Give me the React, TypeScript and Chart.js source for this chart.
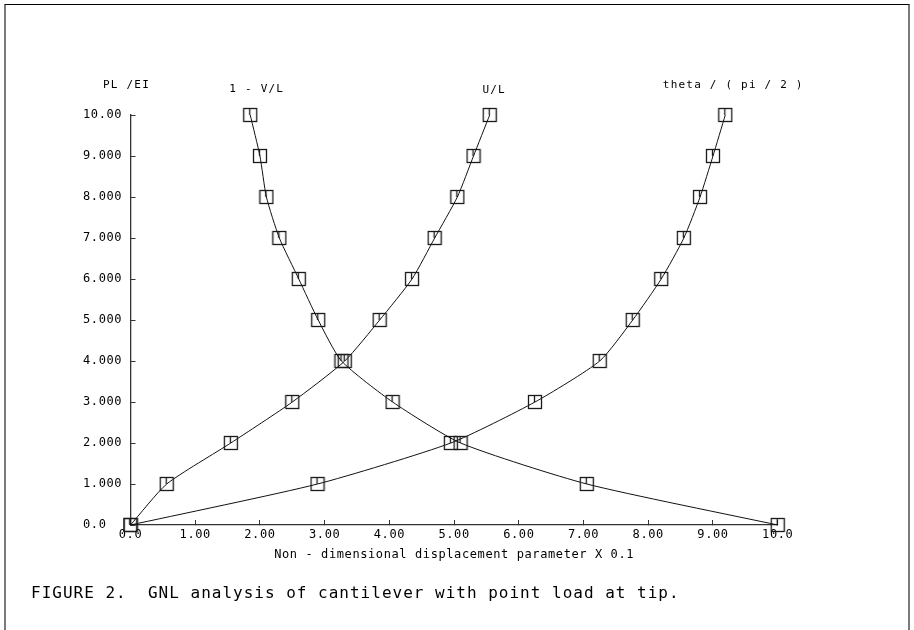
import React, { useEffect, useRef } from "react";
import { Chart, registerables } from "chart.js";

Chart.register(...registerables);

// ---- data ----
const LOAD = [0, 1, 2, 3, 4, 5, 6, 7, 8, 9, 10]; // PL/EI
const ONE_MINUS_V_L = [10.0, 7.05, 5.1, 4.05, 3.26, 2.9, 2.6, 2.3, 2.1, 2.0, 1.85];
const U_L = [0, 0.56, 1.55, 2.5, 3.31, 3.85, 4.35, 4.7, 5.05, 5.3, 5.55];
const THETA = [0, 2.89, 4.95, 6.25, 7.25, 7.76, 8.2, 8.55, 8.8, 9.0, 9.19];
const SERIES_NAMES = ["1 - V/L", "U/L", "theta / ( pi / 2 )"];
const Y_TICK_LABELS = ["0.0", "1.000", "2.000", "3.000", "4.000", "5.000", "6.000", "7.000", "8.000", "9.000", "10.00"];
const X_TICK_LABELS = ["0.0", "1.00", "2.00", "3.00", "4.00", "5.00", "6.00", "7.00", "8.00", "9.00", "10.0"];
const Y_AXIS_LABEL = "PL /EI";
const X_AXIS_LABEL = "Non - dimensional displacement parameter X 0.1";
const CAPTION = "FIGURE 2.  GNL analysis of cantilever with point load at tip.";

const FONT = "'DejaVu Sans Mono', monospace";
const INK = "#000";

function makeMarker(): HTMLCanvasElement {
  const c = document.createElement("canvas");
  c.width = 16;
  c.height = 16;
  const g = c.getContext("2d")!;
  g.strokeStyle = "#1a1a1a";
  g.lineWidth = 1.3;
  g.strokeRect(1.5, 1.5, 13, 13);
  g.beginPath();
  g.moveTo(7.5, 1.5);
  g.lineTo(7.5, 8);
  g.stroke();
  return c;
}

const textPlugin = {
  id: "figureText",
  beforeDraw(chart: any) {
    (chart.ctx as any).letterSpacing = "0.6px";
  },
  afterDraw(chart: any) {
    const ctx = chart.ctx as any;
    const x = chart.scales.x;
    const y = chart.scales.y;
    ctx.save();
    ctx.letterSpacing = "1.2px";
    ctx.font = `11px ${FONT}`;
    ctx.fillStyle = INK;
    ctx.textAlign = "center";
    ctx.textBaseline = "middle";
    ctx.fillText(Y_AXIS_LABEL, x.left - 4, y.top - 30);
    const tops = [ONE_MINUS_V_L, U_L, THETA].map((s) => s[s.length - 1]);
    const dx = [6.5, 4.5, 8];
    const dy = [-26, -25, -30];
    SERIES_NAMES.forEach((name, i) => {
      ctx.fillText(name, x.getPixelForValue(tops[i]) + dx[i], y.top + dy[i]);
    });
    ctx.restore();
  },
};

export default function App() {
  const ref = useRef<HTMLCanvasElement | null>(null);

  useEffect(() => {
    if (!ref.current) return;
    const marker = makeMarker();
    const series = [ONE_MINUS_V_L, U_L, THETA];
    const tickFont = { family: FONT, size: 12 };
    const chart = new Chart(ref.current, {
      type: "scatter",
      data: {
        datasets: series.map((s, i) => ({
          label: SERIES_NAMES[i],
          data: LOAD.map((l, j) => ({ x: s[j], y: l })),
          showLine: true,
          borderColor: "#111",
          borderWidth: 1,
          pointStyle: marker as any,
          pointRadius: 7,
          pointHoverRadius: 7,
          clip: false as any,
          tension: 0.2,
          fill: false,
        })),
      },
      options: {
        animation: false,
        responsive: false,
        devicePixelRatio: 1,
        events: [],
        layout: { padding: { left: 83, top: 115, right: 136.3, bottom: 0 } },
        plugins: { legend: { display: false }, tooltip: { enabled: false } },
        scales: {
          x: {
            type: "linear",
            min: 0,
            max: 10,
            afterFit: (s: any) => {
              s.height = 105;
            },
            ticks: {
              stepSize: 1,
              autoSkip: false,
              maxRotation: 0,
              padding: 8,
              color: INK,
              font: tickFont,
              callback: (_v: any, i: number) => X_TICK_LABELS[i],
            },
            grid: { display: true, drawOnChartArea: false, drawTicks: true, tickLength: -5, color: "#333", lineWidth: 1 },
            border: { display: true, color: "#333", width: 1.3 },
            title: {
              display: true,
              text: X_AXIS_LABEL,
              color: INK,
              font: { family: FONT, size: 12 },
              padding: { top: 0, bottom: 68 },
            },
          },
          y: {
            type: "linear",
            min: 0,
            max: 10,
            afterFit: (s: any) => {
              s.width = 47.5;
            },
            ticks: {
              stepSize: 1,
              autoSkip: false,
              crossAlign: "far",
              labelOffset: -0.5,
              color: INK,
              font: tickFont,
              callback: (_v: any, i: number) => Y_TICK_LABELS[i],
            },
            grid: { display: true, drawOnChartArea: false, drawTicks: true, tickLength: -5, color: "#333", lineWidth: 1 },
            border: { display: true, color: "#333", width: 1.3 },
          },
        },
      },
      plugins: [textPlugin],
    });
    return () => chart.destroy();
  }, []);

  return (
    <div style={{ position: "fixed", left: 0, top: 0, width: 914, height: 630, background: "#fff", overflow: "hidden" }}>
      <div
        style={{
          position: "absolute",
          left: 4,
          top: 4,
          width: 906,
          height: 700,
          boxSizing: "border-box",
          borderTop: "1.5px solid #000",
          borderLeft: "2px solid #7a7a7a",
          borderRight: "2px solid #7a7a7a",
        }}
      />
      <canvas ref={ref} width={914} height={630} style={{ position: "absolute", left: 0, top: 0, width: 914, height: 630 }} />
      <div
        style={{
          position: "absolute",
          left: 31,
          top: 585,
          font: `16px ${FONT}`,
          lineHeight: "16px",
          letterSpacing: "1px",
          whiteSpace: "pre",
          color: INK,
        }}
      >
        {CAPTION}
      </div>
    </div>
  );
}
